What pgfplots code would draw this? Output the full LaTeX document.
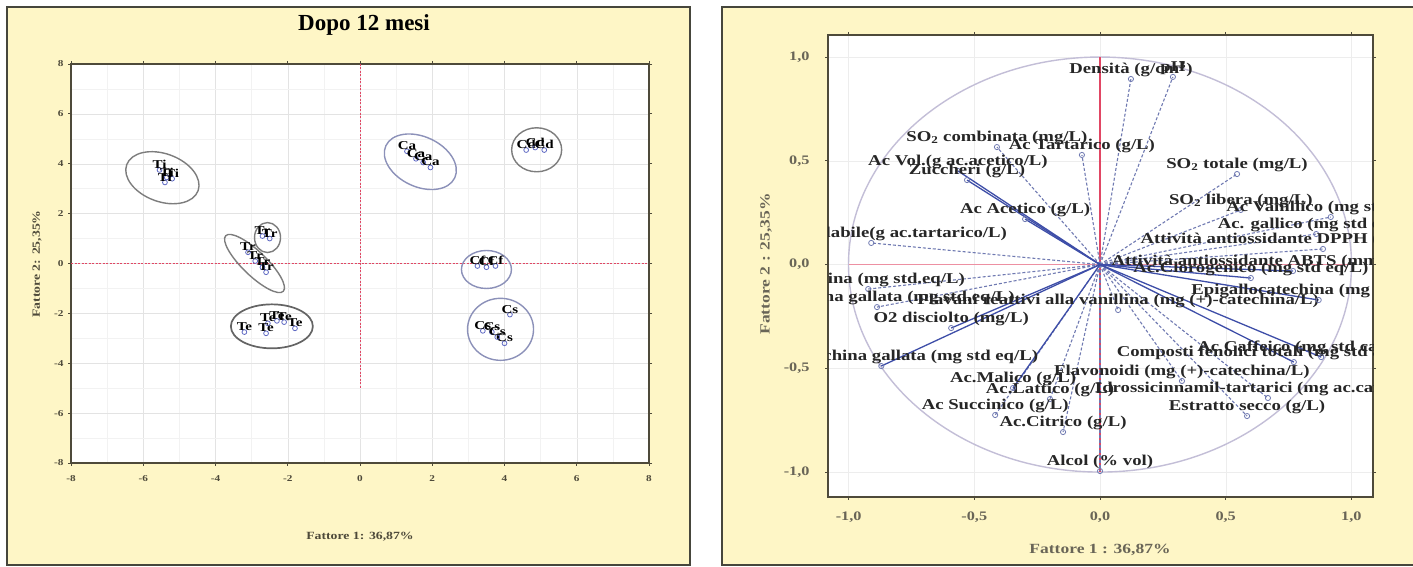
\documentclass[border=0pt]{standalone}
\usepackage{fontspec}
\setmainfont{Liberation Serif}
\newfontfamily\lblfont[FakeStretch=1.25]{Liberation Serif}
\usepackage{pgfplots}
\usepackage{pgfplotstable}
\pgfplotsset{compat=1.18}
\definecolor{bgyellow}{RGB}{254,246,198}
\definecolor{framegray}{RGB}{70,70,60}
\definecolor{axisol}{RGB}{78,74,58}
\definecolor{vecblue}{RGB}{62,78,168}
\definecolor{vecgray}{RGB}{112,122,178}
\definecolor{ptblue}{RGB}{95,105,195}
\definecolor{ellgray}{RGB}{125,125,125}
\definecolor{ellblue}{RGB}{140,145,185}
\definecolor{circcol}{RGB}{195,190,215}
\definecolor{zeroline}{RGB}{225,70,100}

% scores (left panel)
\pgfplotstableread[col sep=semicolon]{
x;y;label
-5.55;3.75;Ti
-5.35;3.45;Ti
-5.20;3.40;Ti
-5.40;3.25;Ti
-2.70;1.10;Tr
-2.50;1.00;Tr
-3.10;0.45;Tr
-2.90;0.10;Tr
-2.70;-0.15;Tr
-2.60;-0.35;Tr
-3.20;-2.75;Te
-2.55;-2.40;Te
-2.30;-2.30;Te
-2.10;-2.35;Te
-1.80;-2.60;Te
-2.60;-2.80;Te
1.30;4.50;Ca
1.55;4.20;Ca
1.75;4.05;Ca
1.95;3.85;Ca
4.60;4.55;Cd
4.85;4.65;Cd
5.10;4.55;Cd
3.25;-0.10;Cf
3.50;-0.15;Cf
3.75;-0.10;Cf
3.40;-2.70;Cs
3.65;-2.75;Cs
4.15;-2.05;Cs
4.00;-3.20;Cs
3.80;-2.95;Cs
}\scores

% loadings drawn with solid vectors
\pgfplotstableread[col sep=semicolon]{
x;y;label
-0.565;0.451;Ac Vol.(g ac.acetico/L)
-0.529;0.407;Zuccheri (g/L)
-0.298;0.219;Ac Acetico (g/L)
-0.592;-0.306;O2 disciolto (mg/L)
-0.870;-0.489;Epigallocatechina gallata (mg std eq/L)
-0.346;-0.595;Ac.Malico (g/L)
0.771;-0.470;Composti fenolici totali (mg std ac.gallico/L)
0.880;-0.446;Ac Caffeico (mg std caffeico/L)
0.768;-0.031;Attività antiossidante ABTS (mmol Trolox/L)
0.600;-0.065;Ac.Clorogenico (mg std eq/L)
0.870;-0.171;Epigallocatechina (mg std eq/L)
}\solidvec

% loadings drawn with dashed vectors
\pgfplotstableread[col sep=semicolon]{
x;y;label
0.123;0.894;Densità (g/cm\textsuperscript{3})
0.290;0.904;pH
-0.410;0.566;SO\textsubscript{2} combinata (mg/L)
-0.072;0.528;Ac Tartarico (g/L)
-0.910;0.104;Acidità titolabile(g ac.tartarico/L)
0.545;0.436;SO\textsubscript{2} totale  (mg/L)
0.560;0.263;SO\textsubscript{2} libera (mg/L)
0.918;0.229;Ac Vanillico (mg std eq/L)
0.860;0.147;Ac. gallico (mg std eq/L)
0.887;0.075;Attività antiossidante DPPH (mmol Trolox/L)
-0.922;-0.118;Catechina (mg std.eq/L)
-0.887;-0.205;Epicatechina gallata (mg std.eq/L)
0.072;-0.219;Flavani reattivi alla vanillina (mg (+)-catechina/L)
-0.199;-0.648;Ac.Lattico (g/L)
-0.417;-0.725;Ac Succinico (g/L)
-0.147;-0.807;Ac.Citrico (g/L)
0.000;-0.995;Alcol (\% vol)
0.326;-0.561;Flavonoidi (mg (+)-catechina/L)
0.668;-0.643;Idrossicinnamil-tartarici (mg ac.caffeico/L)
0.585;-0.730;Estratto secco (g/L)
}\dashvec

\begin{document}
\begin{tikzpicture}[x=1pt,y=1pt]
\useasboundingbox (0,0) rectangle (1413,567);
% panel backgrounds
\fill[bgyellow] (7,2) rectangle (690,560);
\draw[framegray,line width=1.3pt] (7,2) rectangle (690,560);
\fill[bgyellow] (722,2) rectangle (1413,560);
\draw[framegray,line width=1.3pt] (1413,560) -- (722,560) -- (722,2) -- (1413,2);

% ---------------- left panel -----------------
\begin{axis}[
  at={(71pt,104pt)}, anchor=south west, scale only axis,
  width=578pt, height=399pt,
  xmin=-8, xmax=8, ymin=-8, ymax=8,
  xtick={-8,-6,...,8}, ytick={-8,-6,...,8},
  minor tick num=1,
  grid=both,
  major grid style={gray!22},
  minor grid style={gray!10},
  axis background/.style={fill=white},
  axis line style={axisol, line width=1.8pt},
  tick align=outside, major tick length=3pt, minor tick length=0pt,
  tick style={axisol, line width=0.8pt},
  /pgf/number format/assume math mode=true,
  ticklabel style={font=\lblfont\bfseries\fontsize{9}{10}\selectfont, text=axisol},
  xticklabel style={yshift=-6pt},
  yticklabel style={xshift=-1pt},
]
\addplot[zeroline, line width=1pt, dash pattern=on 2pt off 1.5pt] coordinates {(-8,0) (8,0)};
\addplot[zeroline, line width=1pt, dash pattern=on 2pt off 1.5pt] coordinates {(0,8) (0,-5)};
% confidence ellipses
\draw[ellgray, line width=1.4pt, rotate around={-20:(axis cs:-5.47,3.44)}] (axis cs:-5.47,3.44) ellipse [x radius=38pt, y radius=24pt];
\draw[ellgray, line width=1.4pt] (axis cs:-2.56,1.04) ellipse [x radius=13pt, y radius=15pt];
\draw[ellgray, line width=1.4pt, rotate around={-44:(axis cs:-2.92,0.0)}] (axis cs:-2.92,0.0) ellipse [x radius=40pt, y radius=12pt];
\draw[ellgray!80!black, line width=1.7pt] (axis cs:-2.44,-2.52) ellipse [x radius=41pt, y radius=22pt];
\draw[ellblue, line width=1.4pt, rotate around={-25:(axis cs:1.67,4.08)}] (axis cs:1.67,4.08) ellipse [x radius=38pt, y radius=25pt];
\draw[ellgray, line width=1.4pt] (axis cs:4.89,4.56) ellipse [x radius=25pt, y radius=22pt];
\draw[ellblue, line width=1.4pt] (axis cs:3.50,-0.24) ellipse [x radius=25pt, y radius=19pt];
\draw[ellblue, line width=1.4pt] (axis cs:3.89,-2.64) ellipse [x radius=33pt, y radius=31pt];
\addplot[only marks, mark=o, mark size=2.4pt, ptblue, line width=0.8pt,
  point meta=explicit symbolic, nodes near coords,
  every node near coord/.append style={font=\lblfont\bfseries\fontsize{12}{13}\selectfont, text=black, anchor=south, inner sep=1pt}]
  table[x=x, y=y, meta=label] {\scores};
\end{axis}
\node[font=\bfseries\fontsize{23}{26}\selectfont] at (364,542) {Dopo 12 mesi};
\node[font=\lblfont\bfseries\fontsize{11}{13}\selectfont, text=axisol] at (360,30) {Fattore 1: 36,87\%};
\node[font=\lblfont\bfseries\fontsize{11}{13}\selectfont, text=axisol, rotate=90] at (37,303) {Fattore 2: 25,35\%};

% ---------------- right panel -----------------
\begin{axis}[
  at={(828pt,70pt)}, anchor=south west, scale only axis,
  width=545pt, height=462pt,
  xmin=-1.082, xmax=1.086, ymin=-1.12, ymax=1.106,
  xtick={-1,-0.5,0,0.5,1}, ytick={-1,-0.5,0,0.5,1},
  xticklabels={{-1,0},{-0,5},{0,0},{0,5},{1,0}},
  yticklabels={{-1,0},{-0,5},{0,0},{0,5},{1,0}},
  grid=major,
  major grid style={gray!14},
  axis background/.style={fill=white},
  axis line style={axisol, line width=1.8pt},
  tick align=outside, major tick length=3pt,
  tick style={axisol, line width=0.8pt},
  ticklabel style={font=\lblfont\bfseries\fontsize{13}{14}\selectfont, text=axisol!85},
  xticklabel style={yshift=-8pt},
  yticklabel style={xshift=-12pt},
  clip marker paths=true,
]
\draw[circcol, line width=1.4pt] (axis cs:0,0) ellipse [x radius=251.5pt, y radius=207.5pt];
\addplot[zeroline!60, line width=0.8pt] coordinates {(-1,0) (1,0)};
\addplot[zeroline, line width=1.8pt] coordinates {(0,-1) (0,1)};
\addplot[vecgray, line width=1.1pt, dash pattern=on 3pt off 2pt, quiver={u=\thisrow{x}, v=\thisrow{y}}]
  table[x expr=0, y expr=0] {\dashvec};
\addplot[vecblue, line width=1.3pt, quiver={u=\thisrow{x}, v=\thisrow{y}}]
  table[x expr=0, y expr=0] {\solidvec};
\addplot[only marks, mark=o, mark size=2.6pt, vecgray, line width=0.8pt,
  point meta=explicit symbolic, nodes near coords,
  every node near coord/.append style={font=\lblfont\bfseries\fontsize{15}{16}\selectfont, text=black!85, anchor=south, inner sep=1pt, yshift=1pt}]
  table[x=x, y=y, meta=label] {\dashvec};
\addplot[only marks, mark=o, mark size=2.6pt, vecgray, line width=0.8pt,
  point meta=explicit symbolic, nodes near coords,
  every node near coord/.append style={font=\lblfont\bfseries\fontsize{15}{16}\selectfont, text=black!85, anchor=south, inner sep=1pt, yshift=1pt}]
  table[x=x, y=y, meta=label] {\solidvec};
\end{axis}
\node[font=\lblfont\bfseries\fontsize{14}{16}\selectfont, text=axisol!85] at (1100,17) {Fattore 1 : 36,87\%};
\node[font=\lblfont\bfseries\fontsize{14}{16}\selectfont, text=axisol!85, rotate=90] at (766,303) {Fattore 2 : 25,35\%};
\end{tikzpicture}
\end{document}
